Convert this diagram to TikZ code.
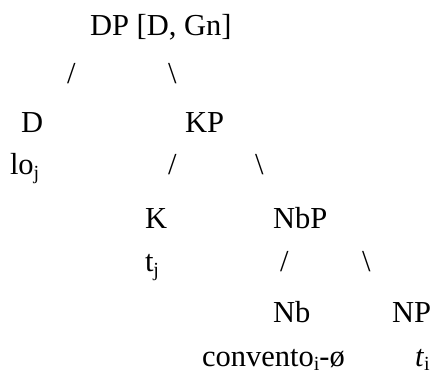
\documentclass[tikz,border=0pt]{standalone}
\usepackage{fontspec}
\setmainfont{Liberation Serif}
\usepackage{tikz}
\newcommand{\lowidx}[1]{\raisebox{-0.14em}{\fontsize{20}{20}\selectfont #1}}

\begin{document}
\begin{tikzpicture}[x=1pt, y=-1pt, font=\fontsize{30.5}{36}\selectfont,
    every node/.style={inner sep=0pt, outer sep=0pt, anchor=base west}]
  \useasboundingbox (0,0) rectangle (434,374);
  \node (dp) at (90,36) {DP [D, Gn]};
  \node (dpl) at (67,83.5) {/};
  \node (dpr) at (168,83.5) {\textbackslash};
  \node (d) at (21,133) {D};
  \node (kp) at (185,133) {KP};
  \node (lo) at (10,175) {lo\lowidx{j}};
  \node (kpl) at (168,175) {/};
  \node (kpr) at (255,175) {\textbackslash};
  \node (k) at (145,229) {K};
  \node (nbp) at (273,229) {NbP};
  \node (tj) at (145,272) {t\lowidx{j}};
  \node (nbpl) at (280,272) {/};
  \node (nbpr) at (362,272) {\textbackslash};
  \node (nb) at (273,323) {Nb};
  \node (np) at (392,323) {NP};
  \node (conv) at (202,366.5) {convento\lowidx{i}-ø};
  \node (ti) at (415,366.5) {\textit{t}\lowidx{i}};
\end{tikzpicture}
\end{document}
